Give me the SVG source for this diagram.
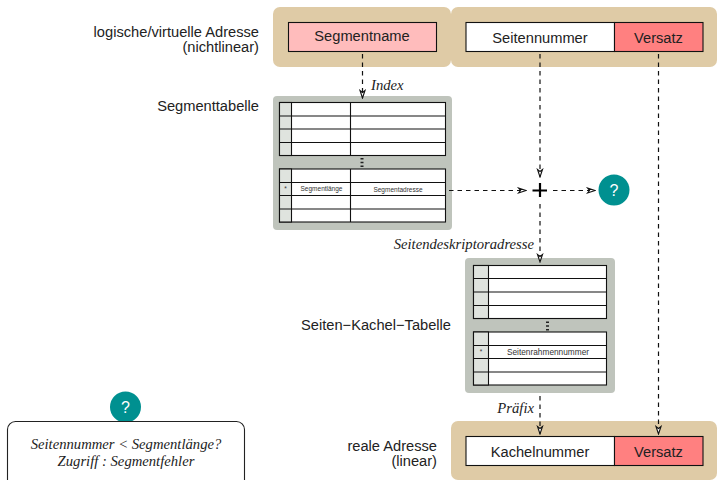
<svg xmlns="http://www.w3.org/2000/svg" width="717" height="480" viewBox="0 0 717 480">
<style>
.band{fill:#dfcba6}
.grey{fill:#bfc4bc}
.cell{stroke:#111;stroke-width:1.1}
.key{fill:#dfe3de}
.w{fill:#fff}
.pk{fill:#ffbcbc}
.rd{fill:#ff8080}
.ln{stroke:#111;stroke-width:1.1;fill:none}
.dots{stroke:#222;stroke-width:3;stroke-dasharray:1.5 2.3;fill:none}
.t{font-family:"Liberation Sans",Arial,sans-serif;font-size:14.67px;fill:#222}
.m{text-anchor:middle}
.e{text-anchor:end}
.s{font-family:"Liberation Sans",Arial,sans-serif;font-size:6.5px;fill:#333;text-anchor:middle}
.s2{font-size:8.3px}
.i{font-family:"Liberation Serif","Times New Roman",serif;font-style:italic;font-size:14.67px;fill:#222}
.c{stroke:#111;stroke-width:1.2;stroke-dasharray:4.500 4;fill:none;marker-end:url(#a)}
.q{fill:#009090}
.qt{font-family:"Liberation Sans",Arial,sans-serif;font-size:16px;fill:#fff;text-anchor:middle}
</style>
<defs>
<marker id="a" markerUnits="userSpaceOnUse" markerWidth="10" markerHeight="8" refX="9" refY="4" orient="auto">
<path d="M1.500 1.500L9 4L1.500 6.500L3.500 4Z" fill="#fff" stroke="#111" stroke-width="1.100"/>
</marker>
</defs>

<g id="label-logical"><text class="t e" x="259" y="37">logische/virtuelle Adresse</text><text class="t e" x="259" y="52">(nichtlinear)</text></g>
<g id="label-segtable"><text class="t e" x="259" y="111">Segmenttabelle</text></g>
<g id="label-pagetable"><text class="t e" x="451" y="330">Seiten−Kachel−Tabelle</text></g>
<g id="label-real"><text class="t e" x="437" y="451">reale Adresse</text><text class="t e" x="437" y="466">(linear)</text></g>

<g id="segmentname">
<rect class="band" x="273" y="7" width="178" height="60" rx="7"/>
<rect class="pk cell" x="288.500" y="22.500" width="148" height="29"/>
<text class="t m" x="362" y="41">Segmentname</text>
</g>

<g id="virtual-page">
<rect class="band" x="451" y="7" width="266" height="60" rx="7"/>
<rect class="w cell" x="466" y="22.500" width="148.500" height="29"/>
<rect class="rd cell" x="614.500" y="22.500" width="88.500" height="29"/>
<text class="t m" x="540" y="43">Seitennummer</text>
<text class="t m" x="658.500" y="43">Versatz</text>
</g>

<g id="segmenttabelle">
<rect class="grey" x="273" y="96" width="179" height="134" rx="4"/>
<rect class="w cell" x="279.500" y="102.500" width="166" height="53"/>
<rect class="w cell" x="279.500" y="169" width="166" height="53"/>
<rect class="key cell" x="279.500" y="102.500" width="12" height="53"/>
<rect class="key cell" x="279.500" y="169" width="12" height="53"/>
<path class="ln" d="M279.500 116H445.500M279.500 129H445.500M279.500 142.500H445.500M279.500 182.500H445.500M279.500 195.500H445.500M279.500 209H445.500M350.500 102.500V155.500M350.500 169V222"/>
<path class="dots" d="M362 158V168"/>
<text class="s" x="321.500" y="191">Segmentlänge</text>
<text class="s" x="398" y="192">Segmentadresse</text>
<text class="s" x="285.500" y="191">*</text>
</g>

<g id="seitentabelle">
<rect class="grey" x="465" y="258" width="150" height="135" rx="4"/>
<rect class="w cell" x="473.500" y="265.500" width="133" height="53"/>
<rect class="w cell" x="473.500" y="332" width="133" height="53"/>
<rect class="key cell" x="473.500" y="265.500" width="15" height="53"/>
<rect class="key cell" x="473.500" y="332" width="15" height="53"/>
<path class="ln" d="M473.500 278.500H606.500M473.500 292H606.500M473.500 305.500H606.500M473.500 345.500H606.500M473.500 358.500H606.500M473.500 372H606.500"/>
<path class="dots" d="M547.500 321.500V331"/>
<text class="s s2" x="548" y="355">Seitenrahmennummer</text>
<text class="s" x="481" y="354">*</text>
</g>

<g id="plus"><path d="M540 183V197M532.500 190.500H547" stroke="#000" stroke-width="2.200" fill="none"/></g>

<g id="question-1"><circle class="q" cx="614" cy="190" r="15.500"/><text class="qt" x="614" y="196">?</text></g>
<g id="question-2"><circle class="q" cx="125.500" cy="407" r="15.500"/><text class="qt" x="125.500" y="413">?</text></g>

<g id="note">
<rect x="7.500" y="421.500" width="237" height="70" rx="8" fill="#fff" stroke="#222" stroke-width="1.100"/>
<text class="i m" x="126" y="449">Seitennummer &lt; Segmentlänge?</text>
<text class="i m" x="126" y="466">Zugriff : Segmentfehler</text>
</g>

<g id="real-address">
<rect class="band" x="451" y="421" width="266" height="59" rx="7"/>
<rect class="w cell" x="466" y="436.500" width="148.500" height="29"/>
<rect class="rd cell" x="614.500" y="436.500" width="88.500" height="29"/>
<text class="t m" x="540" y="457">Kachelnummer</text>
<text class="t m" x="658.500" y="457">Versatz</text>
</g>

<g id="connectors">
<path class="c" d="M362.500 54V98"/>
<path class="c" d="M540 54V177"/>
<path class="c" d="M658.500 54V434"/>
<path class="c" d="M449 190.500H526"/>
<path class="c" d="M553 190.500H595"/>
<path class="c" d="M540 204V262"/>
<path class="c" d="M540 396V434"/>
</g>

<g id="connector-labels">
<text class="i" x="371" y="90">Index</text>
<text class="i e" x="534" y="249">Seitendeskriptoradresse</text>
<text class="i e" x="534" y="413">Präfix</text>
</g>
</svg>
